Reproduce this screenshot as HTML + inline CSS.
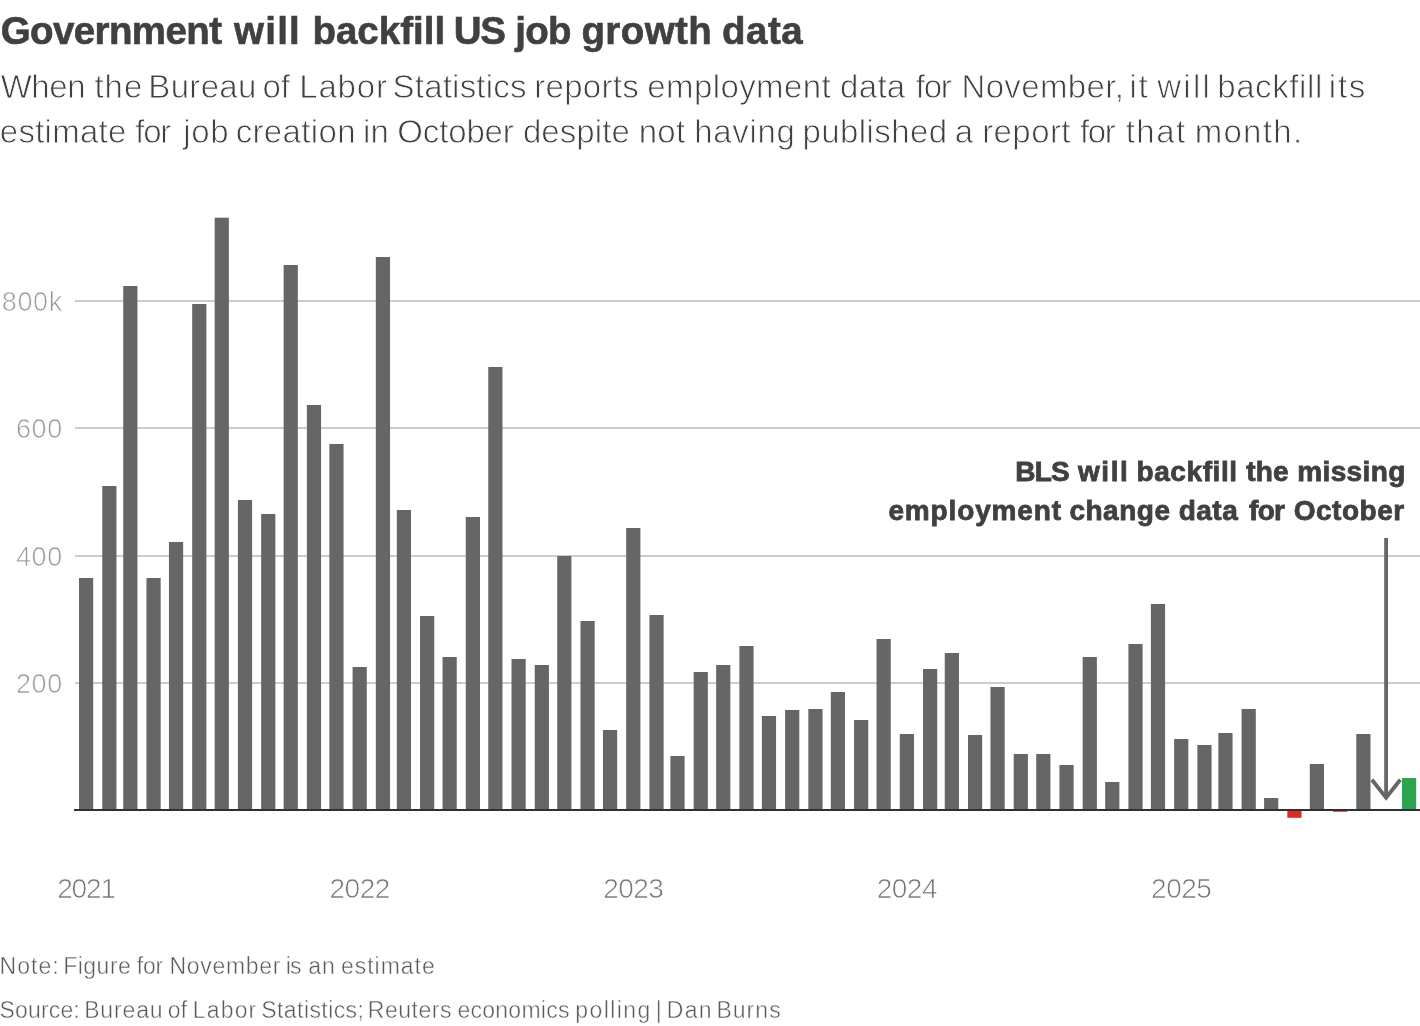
<!DOCTYPE html>
<html><head><meta charset="utf-8"><title>Government will backfill US job growth data</title>
<style>
html,body{margin:0;padding:0;background:#fff;}
body{width:1420px;height:1026px;position:relative;overflow:hidden;font-family:"Liberation Sans",sans-serif;}
.wl{position:absolute;left:0;margin:0;width:1420px;white-space:nowrap;}
p.wl{font-weight:normal;}
p.ann{font-weight:bold;}
.wl span{position:absolute;top:0;white-space:nowrap;}
.ttl{font-size:38.5px;font-weight:bold;color:#404040;line-height:52px;-webkit-text-stroke:0.6px #404040;}
.ann{font-size:28px;font-weight:bold;color:#404040;line-height:39px;-webkit-text-stroke:0.8px #404040;}
.sub{font-size:33px;color:#404040;line-height:45.7px;-webkit-text-stroke:0.8px #fff;}
.foot{font-size:23px;color:#5a5a5a;line-height:30px;-webkit-text-stroke:0.45px #fff;}
svg{position:absolute;left:0;top:0;}
svg text{font-family:"Liberation Sans",sans-serif;}
.yl{font-size:27px;fill:#999;stroke:#fff;stroke-width:0.7px;}
.xl{font-size:28px;fill:#747474;stroke:#fff;stroke-width:0.7px;}
</style></head><body>
<svg width="1420" height="1026" viewBox="0 0 1420 1026">
<rect x="75" y="682" width="1345" height="2" fill="#ccc"/>
<text class="yl" x="62.8" y="692.70" text-anchor="end" style="letter-spacing:0.6px">200</text>
<rect x="75" y="555" width="1345" height="2" fill="#ccc"/>
<text class="yl" x="62.8" y="565.70" text-anchor="end" style="letter-spacing:0.6px">400</text>
<rect x="75" y="427" width="1345" height="2" fill="#ccc"/>
<text class="yl" x="62.8" y="437.70" text-anchor="end" style="letter-spacing:0.6px">600</text>
<rect x="75" y="300" width="1345" height="2" fill="#ccc"/>
<text class="yl" x="62.8" y="310.70" text-anchor="end" style="letter-spacing:0.6px">800k</text>

<rect x="79.00" y="578" width="14.2" height="231.5" fill="#666"/>
<rect x="102.24" y="486" width="14.2" height="323.5" fill="#666"/>
<rect x="123.22" y="286" width="14.2" height="523.5" fill="#666"/>
<rect x="146.46" y="578" width="14.2" height="231.5" fill="#666"/>
<rect x="168.95" y="542" width="14.2" height="267.5" fill="#666"/>
<rect x="192.19" y="304" width="14.2" height="505.5" fill="#666"/>
<rect x="214.67" y="217.7" width="14.2" height="591.8" fill="#666"/>
<rect x="237.91" y="500" width="14.2" height="309.5" fill="#666"/>
<rect x="261.15" y="514" width="14.2" height="295.5" fill="#666"/>
<rect x="283.63" y="265" width="14.2" height="544.5" fill="#666"/>
<rect x="306.87" y="405" width="14.2" height="404.5" fill="#666"/>
<rect x="329.36" y="444" width="14.2" height="365.5" fill="#666"/>
<rect x="352.59" y="667" width="14.2" height="142.5" fill="#666"/>
<rect x="375.83" y="257" width="14.2" height="552.5" fill="#666"/>
<rect x="396.82" y="510" width="14.2" height="299.5" fill="#666"/>
<rect x="420.06" y="616" width="14.2" height="193.5" fill="#666"/>
<rect x="442.54" y="657" width="14.2" height="152.5" fill="#666"/>
<rect x="465.78" y="517" width="14.2" height="292.5" fill="#666"/>
<rect x="488.27" y="367" width="14.2" height="442.5" fill="#666"/>
<rect x="511.50" y="659" width="14.2" height="150.5" fill="#666"/>
<rect x="534.74" y="665" width="14.2" height="144.5" fill="#666"/>
<rect x="557.23" y="556" width="14.2" height="253.5" fill="#666"/>
<rect x="580.47" y="621" width="14.2" height="188.5" fill="#666"/>
<rect x="602.95" y="730" width="14.2" height="79.5" fill="#666"/>
<rect x="626.19" y="528" width="14.2" height="281.5" fill="#666"/>
<rect x="649.43" y="615" width="14.2" height="194.5" fill="#666"/>
<rect x="670.41" y="756" width="14.2" height="53.5" fill="#666"/>
<rect x="693.65" y="672" width="14.2" height="137.5" fill="#666"/>
<rect x="716.14" y="665" width="14.2" height="144.5" fill="#666"/>
<rect x="739.38" y="646" width="14.2" height="163.5" fill="#666"/>
<rect x="761.86" y="716" width="14.2" height="93.5" fill="#666"/>
<rect x="785.10" y="710" width="14.2" height="99.5" fill="#666"/>
<rect x="808.34" y="709" width="14.2" height="100.5" fill="#666"/>
<rect x="830.82" y="692" width="14.2" height="117.5" fill="#666"/>
<rect x="854.06" y="720" width="14.2" height="89.5" fill="#666"/>
<rect x="876.55" y="639" width="14.2" height="170.5" fill="#666"/>
<rect x="899.78" y="734" width="14.2" height="75.5" fill="#666"/>
<rect x="923.02" y="669" width="14.2" height="140.5" fill="#666"/>
<rect x="944.76" y="653" width="14.2" height="156.5" fill="#666"/>
<rect x="968.00" y="735" width="14.2" height="74.5" fill="#666"/>
<rect x="990.48" y="687" width="14.2" height="122.5" fill="#666"/>
<rect x="1013.72" y="754" width="14.2" height="55.5" fill="#666"/>
<rect x="1036.21" y="754" width="14.2" height="55.5" fill="#666"/>
<rect x="1059.44" y="765" width="14.2" height="44.5" fill="#666"/>
<rect x="1082.68" y="657" width="14.2" height="152.5" fill="#666"/>
<rect x="1105.17" y="782" width="14.2" height="27.5" fill="#666"/>
<rect x="1128.41" y="644" width="14.2" height="165.5" fill="#666"/>
<rect x="1150.89" y="604" width="14.2" height="205.5" fill="#666"/>
<rect x="1174.13" y="739" width="14.2" height="70.5" fill="#666"/>
<rect x="1197.37" y="745" width="14.2" height="64.5" fill="#666"/>
<rect x="1218.35" y="733" width="14.2" height="76.5" fill="#666"/>
<rect x="1241.59" y="709" width="14.2" height="100.5" fill="#666"/>
<rect x="1264.08" y="798" width="14.2" height="11.5" fill="#666"/>
<rect x="1287.32" y="810" width="14.2" height="7.8" fill="#d82c28"/>
<rect x="1309.80" y="764" width="14.2" height="45.5" fill="#666"/>
<rect x="1333.04" y="810" width="14.2" height="1.8" fill="#d82c28"/>
<rect x="1356.28" y="734" width="14.2" height="75.5" fill="#666"/>
<rect x="1402.00" y="778" width="14.2" height="31.5" fill="#2ca551"/>
<rect x="74" y="809" width="1346" height="2" fill="#303030"/>
<text class="xl" x="86.10" y="898.4" text-anchor="middle" style="letter-spacing:-1.1px">2021</text>
<text class="xl" x="359.69" y="898.4" text-anchor="middle" style="letter-spacing:-0.5px">2022</text>
<text class="xl" x="633.29" y="898.4" text-anchor="middle" style="letter-spacing:-0.5px">2023</text>
<text class="xl" x="906.88" y="898.4" text-anchor="middle" style="letter-spacing:-0.5px">2024</text>
<text class="xl" x="1181.23" y="898.4" text-anchor="middle" style="letter-spacing:-0.5px">2025</text>

<path d="M1386.1 538V798.5" stroke="#666" stroke-width="3.8" fill="none"/>
<path d="M1371.9 779.7L1386.1 797.6L1400.3 779.7" stroke="#666" stroke-width="3.8" stroke-miterlimit="10" fill="none"/>
</svg>
<h1 class="wl ttl" id="title" style="top:4.56px"><span id="title_0" style="left:0.65px;letter-spacing:-0.600px">Government</span> <span id="title_1" style="left:234.10px;letter-spacing:1.200px">will</span> <span id="title_2" style="left:312.40px;letter-spacing:0.022px">backfill</span> <span id="title_3" style="left:453.70px;letter-spacing:-1.200px">US</span> <span id="title_4" style="left:515.25px;letter-spacing:-0.750px">job</span> <span id="title_5" style="left:581.45px;letter-spacing:0.420px">growth</span> <span id="title_6" style="left:722.05px;letter-spacing:0.450px">data</span></h1>
<p class="wl sub" id="s1" style="top:63.7px"><span id="s1_0" style="left:0.65px;letter-spacing:-0.450px">When</span> <span id="s1_1" style="left:94.40px;letter-spacing:1.050px">the</span> <span id="s1_2" style="left:148.30px;letter-spacing:0.330px">Bureau</span> <span id="s1_3" style="left:262.54px;letter-spacing:-0.240px">of</span> <span id="s1_4" style="left:299.25px;letter-spacing:0.825px">Labor</span> <span id="s1_5" style="left:392.60px;letter-spacing:0.200px">Statistics</span> <span id="s1_6" style="left:534.20px;letter-spacing:0.300px">reports</span> <span id="s1_7" style="left:647.30px;letter-spacing:0.400px">employment</span> <span id="s1_8" style="left:840.10px;letter-spacing:0.300px">data</span> <span id="s1_9" style="left:915.86px;letter-spacing:-1.320px">for</span> <span id="s1_10" style="left:961.45px;letter-spacing:0.376px">November,</span> <span id="s1_11" style="left:1129.60px;letter-spacing:1.500px">it</span> <span id="s1_12" style="left:1157.25px;letter-spacing:2.250px">will</span> <span id="s1_13" style="left:1217.20px;letter-spacing:0.600px">backfill</span> <span id="s1_14" style="left:1328.85px;letter-spacing:1.725px">its</span></p>
<p class="wl sub" id="s2" style="top:109.4px"><span id="s2_0" style="left:-0.25px;letter-spacing:0.279px">estimate</span> <span id="s2_1" style="left:135.31px;letter-spacing:-1.320px">for</span> <span id="s2_2" style="left:183.25px;letter-spacing:0.600px">job</span> <span id="s2_3" style="left:235.70px;letter-spacing:0.342px">creation</span> <span id="s2_4" style="left:363.00px;letter-spacing:0.150px">in</span> <span id="s2_5" style="left:397.30px;letter-spacing:-0.150px">October</span> <span id="s2_6" style="left:522.95px;letter-spacing:0.075px">despite</span> <span id="s2_7" style="left:638.65px;letter-spacing:0.375px">not</span> <span id="s2_8" style="left:694.25px;letter-spacing:0.690px">having</span> <span id="s2_9" style="left:802.40px;letter-spacing:0.431px">published</span> <span id="s2_10" style="left:954.75px;letter-spacing:0.150px">a</span> <span id="s2_11" style="left:982.20px;letter-spacing:0.420px">report</span> <span id="s2_12" style="left:1079.94px;letter-spacing:-1.320px">for</span> <span id="s2_13" style="left:1125.65px;letter-spacing:1.500px">that</span> <span id="s2_14" style="left:1194.65px;letter-spacing:1.320px">month.</span></p>
<p class="wl ann" id="an1" style="top:452.4px"><span id="an1_0" style="left:1015.30px;letter-spacing:-0.750px">BLS</span> <span id="an1_1" style="left:1078.10px;letter-spacing:1.500px">will</span> <span id="an1_2" style="left:1136.45px;letter-spacing:0.600px">backfill</span> <span id="an1_3" style="left:1246.30px;letter-spacing:0.150px">the</span> <span id="an1_4" style="left:1297.25px;letter-spacing:0.375px">missing</span></p>
<p class="wl ann" id="an2" style="top:490.6px"><span id="an2_0" style="left:888.45px;letter-spacing:0.850px">employment</span> <span id="an2_1" style="left:1069.40px;letter-spacing:0.510px">change</span> <span id="an2_2" style="left:1178.80px;letter-spacing:0.450px">data</span> <span id="an2_3" style="left:1249.10px;letter-spacing:-0.750px">for</span> <span id="an2_4" style="left:1293.65px;letter-spacing:0.525px">October</span></p>
<p class="wl foot" id="f1" style="top:950.5px"><span id="f1_0" style="left:-0.45px;letter-spacing:1.050px">Note:</span> <span id="f1_1" style="left:63.15px;letter-spacing:0.510px">Figure</span> <span id="f1_2" style="left:136.85px;letter-spacing:-0.300px">for</span> <span id="f1_3" style="left:169.60px;letter-spacing:0.664px">November</span> <span id="f1_4" style="left:285.80px;letter-spacing:-0.920px">is</span> <span id="f1_5" style="left:308.25px;letter-spacing:1.050px">an</span> <span id="f1_6" style="left:340.90px;letter-spacing:0.986px">estimate</span></p>
<p class="wl foot" id="f2" style="top:994.5px"><span id="f2_0" style="left:-0.45px;letter-spacing:0.150px">Source:</span> <span id="f2_1" style="left:84.15px;letter-spacing:0.870px">Bureau</span> <span id="f2_2" style="left:167.85px;letter-spacing:0.150px">of</span> <span id="f2_3" style="left:192.80px;letter-spacing:1.161px">Labor</span> <span id="f2_4" style="left:261.30px;letter-spacing:0.420px">Statistics;</span> <span id="f2_5" style="left:367.80px;letter-spacing:0.525px">Reuters</span> <span id="f2_6" style="left:457.45px;letter-spacing:0.265px">economics</span> <span id="f2_7" style="left:575.30px;letter-spacing:1.425px">polling</span> <span id="f2_8" style="left:655.75px;letter-spacing:0.150px">|</span> <span id="f2_9" style="left:666.80px;letter-spacing:1.275px">Dan</span> <span id="f2_10" style="left:716.40px;letter-spacing:1.050px">Burns</span></p>
</body></html>
